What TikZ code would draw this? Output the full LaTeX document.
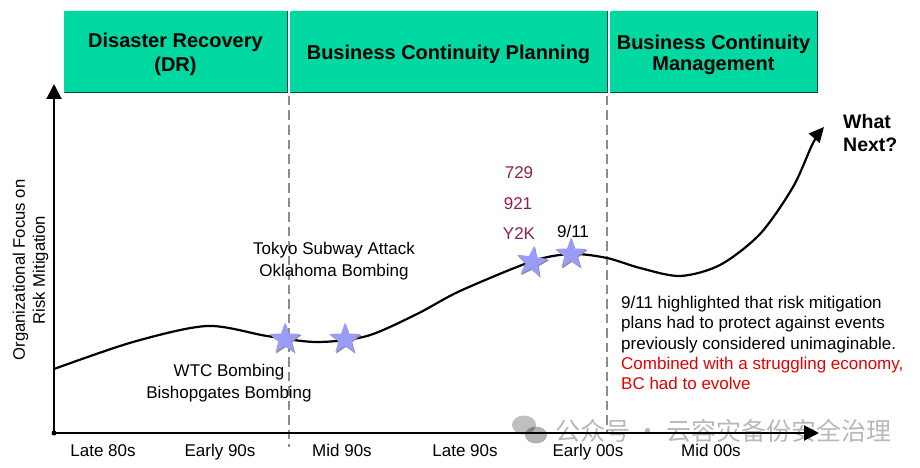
\documentclass[tikz,border=0pt]{standalone}
\usepackage{fontspec}
\setmainfont{Liberation Sans}
\newfontfamily\cjkfont{Noto Sans CJK SC}
\usetikzlibrary{arrows.meta,positioning,calc,shapes.geometric}
\definecolor{phasegreen}{HTML}{00D8A2}
\definecolor{eventred}{HTML}{8F1F4B}
\definecolor{starblue}{HTML}{9A9CFA}

\begin{document}
\begin{tikzpicture}[
  x=1pt, y=-1pt,
  every node/.style={inner sep=0pt, align=center},
  phase/.style    ={fill=phasegreen, rounded corners=1pt},
  phaseedge/.style={draw=black!65!phasegreen, line width=0.8pt},
  axisline/.style ={draw=black, line width=2pt, -{Triangle[length=15pt,width=15pt]}},
  boundary/.style ={draw=black!45, line width=1.3pt, dash pattern=on 9.5pt off 5pt},
  period/.style   ={font=\fontsize{17}{18}\selectfont, anchor=base},
  eventlabel/.style={font=\fontsize{17}{22.5}\selectfont},
  crisis/.style   ={font=\fontsize{17}{17}\selectfont, text=eventred},
  eventstar/.style={star, star points=5, star point ratio=2.45, minimum size=33pt,
                    fill=starblue},
  starshade/.style={star, star points=5, star point ratio=2.45, minimum size=33pt,
                    fill=black!45}]

\useasboundingbox (0,0) rectangle (920,468);

% phase headers along the top
\newcommand{\phasebox}[4]{%
  \path[phase] (#1,11) rectangle (#2,92);
  \draw[phaseedge] (#1,92) -- (#2,92) -- (#2,11);
  \node[font=\fontsize{20}{21}\selectfont\bfseries] (#3) at ({(#1+#2)/2},54.5) {#4};}
\phasebox{64}{287}{drbox}{Disaster Recovery\\[3pt](DR)}
\phasebox{290}{607}{bcpbox}{Business Continuity Planning}
\phasebox{610}{817}{bcmbox}{Business Continuity\\Management}

% boundaries between phases
\coordinate (drtop) at (289,96);
\coordinate (drfoot) at (289,447);
\coordinate (bcptop) at (607,96);
\coordinate (bcpfoot) at (607,433);
\draw[boundary] (drtop) -- (drfoot);
\draw[boundary] (bcptop) -- (bcpfoot);

% axes
\coordinate (origin) at (54,433);
\coordinate (ytip) at (54,84);
\coordinate (xtip) at (819,433);
\draw[axisline] (origin) -- (ytip);
\draw[axisline] (origin) -- (xtip);
\fill (origin) circle[radius=2.5pt];

\node[font=\fontsize{16.7}{20}\selectfont, rotate=90] (ylabel) at (30.5,270)
  {Organizational Focus on\\Risk Mitigation};

\foreach \x/\txt/\nm in {103/Late 80s/pa,220/Early 90s/pb,342/Mid 90s/pc,
                         465/Late 90s/pd,588/Early 00s/pe,711/Mid 00s/pf}
  \node[period] (\nm) at (\x,456.5) {\txt};

% the focus curve
\draw[line width=2.2pt, -{Triangle[length=15pt,width=14pt]}]
  plot[smooth] coordinates {(54,369) (133,342) (207,326) (267,336) (317,342)
    (367,336) (417,314) (460,291) (533,261) (572,254) (607,258) (640,268) (680,276)
    (720,265) (760,234) (793,187) (813,143) (824,127)};

% events on the curve
\foreach \x/\y/\ang/\nm in {285/339/0/stara,345/339/0/starb,532/262/-8/starc,571/254/0/stard}{
  \node[starshade, rotate=\ang] at (\x+0.8,\y+1.2) {};
  \node[eventstar, rotate=\ang] (\nm) at (\x,\y) {};}

\node[crisis] (lbla) at (519,173) {729};
\node[crisis] (lblb) at (518,204) {921};
\node[crisis] (lblc) at (519,234) {Y2K};
\node[period] (lbld) at (573,237) {9/11};
\node[eventlabel] (tokyo) at (334,261) {Tokyo Subway Attack\\Oklahoma Bombing};
\node[eventlabel] (wtc) at (229,383) {WTC Bombing\\Bishopgates Bombing};

\node[font=\fontsize{19.5}{23}\selectfont\bfseries, align=left, anchor=west] (whatnext)
  at (843,133.5) {What\\Next?};

\node[font=\fontsize{17}{20.3}\selectfont, align=left, anchor=north west] (lesson)
  at (621,296) {9/11 highlighted that risk mitigation\\
    plans had to protect against events\\
    previously considered unimaginable.\\
    \textcolor{red!90!black}{Combined with a struggling economy,}\\
    \textcolor{red!90!black}{BC had to evolve}};

% watermark
\node[font=\cjkfont\fontsize{25}{26}\selectfont, text=black, opacity=0.28, anchor=west]
  (wmark) at (555,431) {公众号 · 云容灾备份安全治理};
\fill[black, opacity=0.25] (524,425) ellipse[x radius=12pt, y radius=9.5pt];
\fill[black, opacity=0.3] (536,435) ellipse[x radius=11pt, y radius=8.5pt];

\end{tikzpicture}
\end{document}
